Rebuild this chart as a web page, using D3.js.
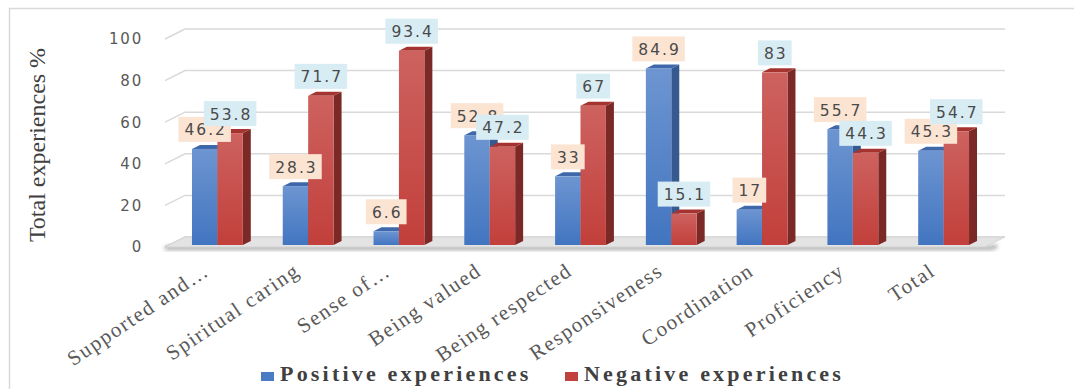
<!DOCTYPE html>
<html><head><meta charset="utf-8">
<script src="https://cdn.jsdelivr.net/npm/d3@7"></script>
<style>html,body{margin:0;padding:0;background:#fff;}svg{display:block;}</style>
</head><body>
<script>
const categories = ["Supported and…","Spiritual caring","Sense of…","Being valued","Being respected","Responsiveness","Coordination","Proficiency","Total"];
const positive = [46.2, 28.3, 6.6, 52.8, 33, 84.9, 17, 55.7, 45.3];
const negative = [53.8, 71.7, 93.4, 47.2, 67, 15.1, 83, 44.3, 54.7];
const yTicks = [0, 20, 40, 60, 80, 100];
const seriesNames = ["Positive experiences", "Negative experiences"];

const W = 1074, H = 389;
const svg = d3.select("body").append("svg").attr("width", W).attr("height", H);
const defs = svg.append("defs");

function grad(id, c1, c2) {
  const g = defs.append("linearGradient").attr("id", id).attr("x1", 0).attr("y1", 0).attr("x2", 0).attr("y2", 1);
  g.append("stop").attr("offset", "0%").attr("stop-color", c1);
  g.append("stop").attr("offset", "100%").attr("stop-color", c2);
}
grad("gBlue", "#6d95d1", "#4275c0");
grad("gRed", "#cd625f", "#c23f3b");
const blur = defs.append("filter").attr("id", "blur").attr("x", "-5%").attr("y", "-200%").attr("width", "110%").attr("height", "500%");
blur.append("feGaussianBlur").attr("stdDeviation", 2);

// frame
svg.append("path").attr("d", "M9.5,389 V8.5 H1074").attr("fill", "none").attr("stroke", "#d9d9d9").attr("stroke-width", 1.5);

const x = d3.scaleBand().domain(categories).range([172, 989]);
const yFront = d3.scaleLinear().domain([0, 100]).range([247, 39]);
const yBack = d3.scaleLinear().domain([0, 100]).range([237, 29]);
const yBar = d3.scaleLinear().domain([0, 100]).range([245, 37]);
const wallX0 = 165, wallDX = 20;
const backRight = 1005;
const bw = x.step() * 0.28;
const dX = 8, dY = -4;

// gridlines
const grid = svg.append("g");
yTicks.forEach(t => {
  grid.append("path")
    .attr("d", `M${wallX0},${yFront(t)} L${wallX0 + wallDX},${yBack(t)} H${backRight}`)
    .attr("fill", "none").attr("stroke", "#d9d9d9").attr("stroke-width", 1.5);
});

// floor
const fy = yFront(0), by = yBack(0);
svg.append("path")
  .attr("d", `M${wallX0},${fy + 1} H${backRight - 14} L${backRight - 8},${fy - 1}`)
  .attr("fill", "none").attr("stroke", "#6f6f6f").attr("stroke-width", 3).attr("filter", "url(#blur)").attr("opacity", 0.8);
svg.append("path")
  .attr("d", `M${wallX0},${fy} L${wallX0 + wallDX},${by} H${backRight} L${backRight - wallDX},${fy} Z`)
  .attr("fill", "#e3e3e3").attr("stroke", "#cfcfcf").attr("stroke-width", 0.8);

// y tick labels
svg.append("g").selectAll("text").data(yTicks).join("text")
  .attr("x", 143).attr("y", d => yFront(d)).attr("dy", "0.36em")
  .attr("text-anchor", "end")
  .attr("font-family", "DejaVu Sans").attr("font-size", 15).attr("letter-spacing", 1.8)
  .attr("fill", "#595959").text(d => d);

// y title
svg.append("text").attr("transform", "translate(45,145) rotate(-90)")
  .attr("text-anchor", "middle").attr("font-family", "Liberation Serif").attr("font-size", 24)
  .attr("fill", "#404040").text("Total experiences %");

// bars
function drawBar(g, x0, v, front, top, side) {
  const x1 = x0 + bw, yt = yBar(v), yb = yBar(0);
  g.append("path").attr("d", `M${x1},${yt} L${x1 + dX},${yt + dY} V${yb + dY} L${x1},${yb} Z`).attr("fill", side);
  g.append("path").attr("d", `M${x0},${yt} L${x0 + dX},${yt + dY} H${x1 + dX} L${x1},${yt} Z`).attr("fill", top);
  g.append("rect").attr("x", x0).attr("y", yt).attr("width", bw).attr("height", yb - yt).attr("fill", front);
}
const bars = svg.append("g");
categories.forEach((c, i) => {
  const cx = x(c) + x.bandwidth() / 2;
  drawBar(bars, cx - bw, positive[i], "url(#gBlue)", "#3f68ab", "#36598f");
  drawBar(bars, cx, negative[i], "url(#gRed)", "#a53431", "#7a2927");
});

// data labels
function drawLabels(vals, xoff, fill) {
  const g = svg.append("g");
  categories.forEach((c, i) => {
    const cx = x(c) + x.bandwidth() / 2 + xoff;
    const yb = yBar(vals[i]) - 7;
    const t = g.append("text").attr("x", cx + 1).attr("y", yb - 6.5)
      .attr("text-anchor", "middle").attr("font-family", "DejaVu Sans").attr("font-size", 15.5)
      .attr("letter-spacing", 2).attr("fill", "#4a4a4a").text(vals[i]);
    const bb = t.node().getBBox();
    const w = bb.width + 10;
    g.insert("rect", () => t.node()).attr("x", cx - w / 2).attr("y", yb - 25).attr("width", w).attr("height", 25).attr("fill", fill);
  });
}
drawLabels(positive, -bw / 2, "#fce4d3");
drawLabels(negative, bw / 2, "#d8ecf4");

// category labels
svg.append("g").selectAll("text").data(categories).join("text")
  .attr("transform", d => `translate(${x(d) + x.bandwidth() / 2 - 7},274) rotate(-34)`)
  .attr("text-anchor", "end").attr("font-family", "Liberation Serif").attr("font-size", 21)
  .attr("letter-spacing", 1.6).attr("fill", "#595959").text(d => d);

// legend
const legend = svg.append("g");
const legX = [261, 565], legColors = ["#4a7cc4", "#c0413d"];
seriesNames.forEach((n, i) => {
  legend.append("rect").attr("x", legX[i]).attr("y", 372).attr("width", 13).attr("height", 9).attr("fill", legColors[i]);
  legend.append("text").attr("x", legX[i] + 19).attr("y", 381)
    .attr("font-family", "Liberation Serif").attr("font-weight", "bold").attr("font-size", 22)
    .attr("letter-spacing", 3.2).attr("fill", "#404040").text(n);
});
</script>
</body></html>
